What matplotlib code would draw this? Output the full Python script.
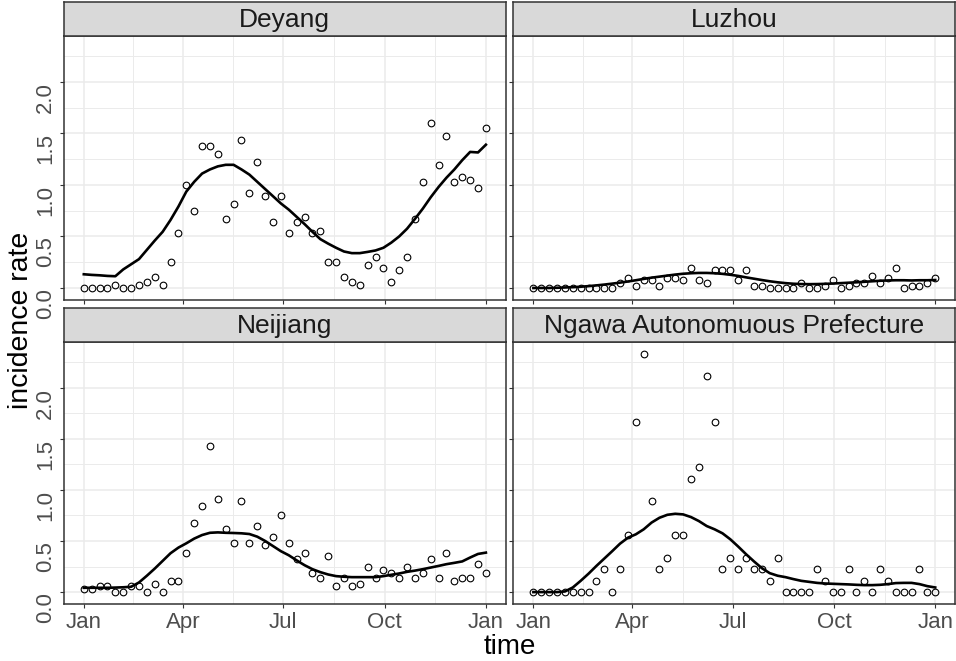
import matplotlib
matplotlib.use("Agg")
import matplotlib.pyplot as plt
import numpy as np
import pandas as pd

plt.rcParams['font.family'] = ['Liberation Sans', 'DejaVu Sans']

# Data: weekly incidence rate per city (observed points and smoothed curve)
dates = pd.date_range("2019-01-01", "2020-01-01", periods=52)

deyang_obs = [0, 0, 0, 0, 0.026, 0, 0, 0.026, 0.055, 0.11, 0.026, 0.25, 0.53, 1.0, 0.75,
              1.38, 1.38, 1.30, 0.67, 0.81, 1.44, 0.92, 1.22, 0.89, 0.64, 0.89, 0.53, 0.64,
              0.69, 0.53, 0.555, 0.25, 0.25, 0.11, 0.055, 0.026, 0.22, 0.305, 0.195, 0.055,
              0.17, 0.305, 0.67, 1.03, 1.60, 1.19, 1.47, 1.03, 1.08, 1.05, 0.97, 1.55]
deyang_fit = [0.133, 0.127, 0.123, 0.117, 0.114, 0.18, 0.23, 0.28, 0.37, 0.46, 0.545, 0.66,
              0.79, 0.935, 1.03, 1.11, 1.15, 1.18, 1.195, 1.195, 1.15, 1.10, 1.03, 0.96, 0.89,
              0.82, 0.76, 0.69, 0.62, 0.545, 0.474, 0.43, 0.39, 0.354, 0.338, 0.338, 0.35,
              0.364, 0.39, 0.44, 0.50, 0.575, 0.67, 0.77, 0.88, 0.98, 1.07, 1.15, 1.24, 1.32,
              1.315, 1.39]

luzhou_obs = [0, 0, 0, 0, 0, 0, 0, 0, 0, 0, 0, 0.05, 0.10, 0.02, 0.075, 0.075, 0.02, 0.10,
              0.10, 0.075, 0.19, 0.075, 0.05, 0.17, 0.17, 0.17, 0.075, 0.17, 0.02, 0.02, 0, 0,
              0, 0, 0.05, 0, 0, 0.02, 0.075, 0, 0.02, 0.05, 0.05, 0.12, 0.05, 0.10, 0.19, 0,
              0.02, 0.02, 0.05, 0.10]
luzhou_fit = [0.0, 0.0, 0.0, 0.002, 0.005, 0.008, 0.012, 0.018, 0.025, 0.033, 0.042, 0.052,
              0.063, 0.075, 0.088, 0.10, 0.11, 0.12, 0.13, 0.138, 0.143, 0.146, 0.146, 0.143,
              0.137, 0.128, 0.117, 0.103, 0.09, 0.077, 0.065, 0.055, 0.047, 0.041, 0.038,
              0.037, 0.038, 0.04, 0.043, 0.047, 0.051, 0.055, 0.06, 0.065, 0.07, 0.073, 0.075,
              0.075, 0.073, 0.075, 0.075, 0.077]

neijiang_obs = [0.026, 0.026, 0.055, 0.055, 0, 0, 0.055, 0.055, 0, 0.08, 0, 0.107, 0.107,
                0.38, 0.675, 0.84, 1.43, 0.915, 0.62, 0.48, 0.89, 0.48, 0.646, 0.458, 0.54,
                0.756, 0.48, 0.32, 0.38, 0.19, 0.133, 0.35, 0.055, 0.133, 0.055, 0.08, 0.243,
                0.133, 0.218, 0.19, 0.133, 0.243, 0.133, 0.19, 0.325, 0.133, 0.38, 0.107,
                0.133, 0.133, 0.27, 0.19]
neijiang_fit = [0.042, 0.042, 0.042, 0.042, 0.044, 0.047, 0.052, 0.094, 0.16, 0.23, 0.305,
                0.38, 0.435, 0.477, 0.523, 0.558, 0.58, 0.584, 0.58, 0.578, 0.575, 0.568,
                0.542, 0.5, 0.45, 0.40, 0.36, 0.31, 0.263, 0.224, 0.195, 0.172, 0.156, 0.15,
                0.146, 0.146, 0.146, 0.146, 0.156, 0.169, 0.182, 0.198, 0.21, 0.224, 0.24,
                0.256, 0.273, 0.286, 0.3, 0.338, 0.373, 0.386]

ngawa_obs = [0, 0, 0, 0, 0, 0, 0, 0, 0.111, 0.222, 0, 0.222, 0.556, 1.667, 2.333, 0.889,
             0.222, 0.333, 0.556, 0.556, 1.111, 1.222, 2.111, 1.667, 0.222, 0.333, 0.222,
             0.333, 0.222, 0.222, 0.111, 0.333, 0, 0, 0, 0, 0.222, 0.111, 0, 0, 0.222, 0,
             0.111, 0, 0.222, 0.111, 0, 0, 0, 0.222, 0, 0]
ngawa_fit = [0, 0, 0, 0, 0.006, 0.045, 0.11, 0.18, 0.256, 0.328, 0.40, 0.474, 0.532, 0.565,
             0.614, 0.68, 0.727, 0.756, 0.766, 0.76, 0.734, 0.695, 0.646, 0.614, 0.575,
             0.516, 0.445, 0.37, 0.3, 0.234, 0.185, 0.16, 0.146, 0.127, 0.11, 0.1, 0.09,
             0.084, 0.081, 0.078, 0.075, 0.071, 0.068, 0.068, 0.071, 0.078, 0.088, 0.09,
             0.09, 0.078, 0.058, 0.045]

cities = ["Deyang", "Luzhou", "Neijiang", "Ngawa Autonomuous Prefecture"]
observed = [deyang_obs, luzhou_obs, neijiang_obs, ngawa_obs]
fitted = [deyang_fit, luzhou_fit, neijiang_fit, ngawa_fit]

x_breaks = pd.to_datetime(["2019-01-01", "2019-04-01", "2019-07-01", "2019-10-01", "2020-01-01"])
x_labels = ["Jan", "Apr", "Jul", "Oct", "Jan"]
y_breaks = [0.0, 0.5, 1.0, 1.5, 2.0]
y_labels = ["0.0", "0.5", "1.0", "1.5", "2.0"]

# Layout (pixels)
W, H = 956, 661
cols = [(63.7, 506.0), (513.3, 955.3)]
rows = [(35.5, 300.0), (341.7, 604.0)]
strip_h = 34.0

border = '#333333'
grid = '#EBEBEB'
txt = '#4D4D4D'

fig = plt.figure(figsize=(W / 100, H / 100), dpi=100)

span = dates[-1] - dates[0]
xlo = dates[0] - span * 0.05
xhi = dates[-1] + span * 0.05
ymax = max(max(o) for o in observed)
ylo, yhi = -0.05 * ymax, ymax * 1.05

x_minor = [x_breaks[i] + (x_breaks[i + 1] - x_breaks[i]) / 2 for i in range(len(x_breaks) - 1)]
y_minor = [0.25, 0.75, 1.25, 1.75, 2.25]

for k, city in enumerate(cities):
    r, c = divmod(k, 2)
    x0, x1 = cols[c]
    y0, y1 = rows[r]
    ax = fig.add_axes([x0 / W, 1 - y1 / H, (x1 - x0) / W, (y1 - y0) / H])
    ax.set_xlim(xlo, xhi)
    ax.set_ylim(ylo, yhi)

    for xm in x_minor:
        ax.axvline(xm, color=grid, lw=0.7, zorder=0)
    for ym in y_minor:
        ax.axhline(ym, color=grid, lw=0.7, zorder=0)
    for xb in x_breaks:
        ax.axvline(xb, color=grid, lw=1.1, zorder=0)
    for yb in y_breaks:
        ax.axhline(yb, color=grid, lw=1.1, zorder=0)

    ax.plot(dates, fitted[k], color='black', lw=1.9, zorder=3)
    ax.plot(dates, observed[k], 'o', ms=4.8, mfc='none', mec='black', mew=0.8, zorder=4)

    ax.set_xticks(x_breaks)
    ax.set_yticks(y_breaks)
    if r == 1:
        ax.set_xticklabels(x_labels, fontsize=16, color=txt)
    else:
        ax.set_xticklabels([])
    if c == 0:
        ax.set_yticklabels(y_labels, fontsize=16, color=txt, rotation=90, va='top', ha='right')
    else:
        ax.set_yticklabels([])
    ax.tick_params(axis='both', length=3.2, width=0.8, color=border, pad=2.5)
    for s in ax.spines.values():
        s.set_color(border)
        s.set_linewidth(1.1)

    # strip
    sa = fig.add_axes([x0 / W, 1 - y0 / H, (x1 - x0) / W, strip_h / H])
    sa.set_facecolor('#D9D9D9')
    sa.set_xticks([])
    sa.set_yticks([])
    for s in sa.spines.values():
        s.set_color(border)
        s.set_linewidth(1.1)
    sa.text(0.5, 0.47, city, ha='center', va='center', fontsize=19, color='#1A1A1A',
            transform=sa.transAxes)

fig.text((63.7 + 955.3) / 2 / W, 1 - 654 / H, "time", ha='center', va='baseline', fontsize=20)
fig.text(21 / W, 1 - 320 / H, "incidence rate", ha='center', va='center', rotation=90,
         fontsize=20.5)

fig.savefig("out.png", dpi=100)
